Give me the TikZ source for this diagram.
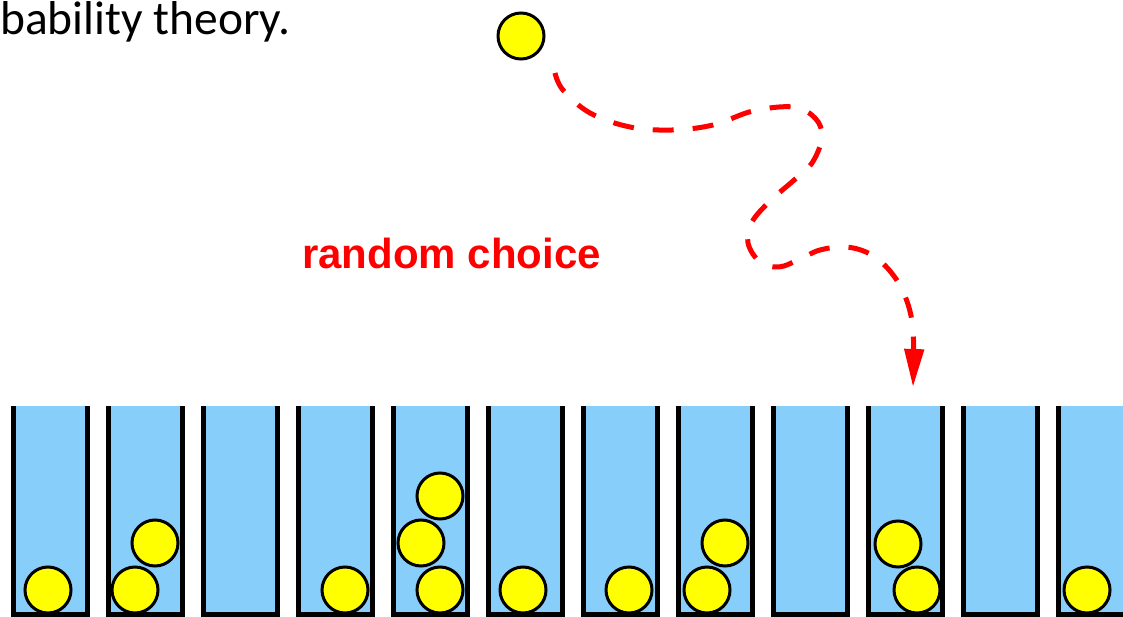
\documentclass[tikz,border=0pt]{standalone}
\usepackage{fontspec}
\usetikzlibrary{arrows.meta}
\newfontfamily\carlfont{Carlito}
\newfontfamily\arialfont{Liberation Sans}
\definecolor{binblue}{RGB}{135,206,250}
\definecolor{ballyellow}{RGB}{255,255,0}
\definecolor{pathred}{RGB}{255,0,0}
\tikzset{
  ball/.style={circle, draw=black, fill=ballyellow, line width=3pt, minimum size=46pt, inner sep=0pt},
  binwall/.style={draw=black, line width=5pt, line cap=butt, line join=miter},
  binfill/.style={fill=binblue},
  randpath/.style={draw=pathred, line width=5pt, dash pattern=on 21pt off 19pt, line cap=butt,
    -{Triangle[length=38pt, width=19pt]}},
}
\begin{document}
\begin{tikzpicture}[x=1pt, y=-1pt]
\useasboundingbox (0,0) rectangle (1123,617);
\clip (0,0) rectangle (1123,617);
% bins
\foreach \i in {0,...,11}{
  \pgfmathsetmacro\xl{13.5+95*\i}
  \pgfmathsetmacro\xr{87.5+95*\i}
  \fill[binfill] (\xl,406) rectangle (\xr,614.5);
  \draw[binwall] (\xl,406) -- (\xl,614.5) -- (\xr,614.5) -- (\xr,406);
}
% balls in bins
\node[ball] (b1a) at (48,590) {};
\node[ball] (b2a) at (135,590) {};
\node[ball] (b2b) at (155,543) {};
\node[ball] (b4a) at (345,590) {};
\node[ball] (b5a) at (440,590) {};
\node[ball] (b5b) at (421,543) {};
\node[ball] (b5c) at (440,496) {};
\node[ball] (b6a) at (523,590) {};
\node[ball] (b7a) at (629,590) {};
\node[ball] (b8a) at (707,590) {};
\node[ball] (b8b) at (725,543) {};
\node[ball] (b10a) at (898,544) {};
\node[ball] (b10b) at (917,590) {};
\node[ball] (b12a) at (1087,590) {};
% falling ball
\node[ball] (top) at (521,36) {};
% texts
\node[anchor=base west, inner sep=0pt, font=\carlfont\fontsize{47.5}{54}\selectfont] (title) at (0,35) {bability theory.};
\node[anchor=base west, inner sep=0pt, text=pathred, font=\arialfont\bfseries\fontsize{42}{48}\selectfont] (label) at (302,268.5) {random choice};
% random path
\coordinate (pstart) at (555,73);
\coordinate (ptip) at (913,387);
\draw[randpath] plot[smooth, tension=0.6] coordinates {
  (pstart) (563,90) (590,113) (630,127) (672,130) (713,125) (753,111) (793,107)
  (815,118) (822,137) (812,163) (793,181) (770,201) (752,222) (748,243)
  (760,262) (779,267) (800,259) (820,250) (846,247) (870,254) (890,271)
  (905,296) (913,330) (ptip)};
\end{tikzpicture}
\end{document}
